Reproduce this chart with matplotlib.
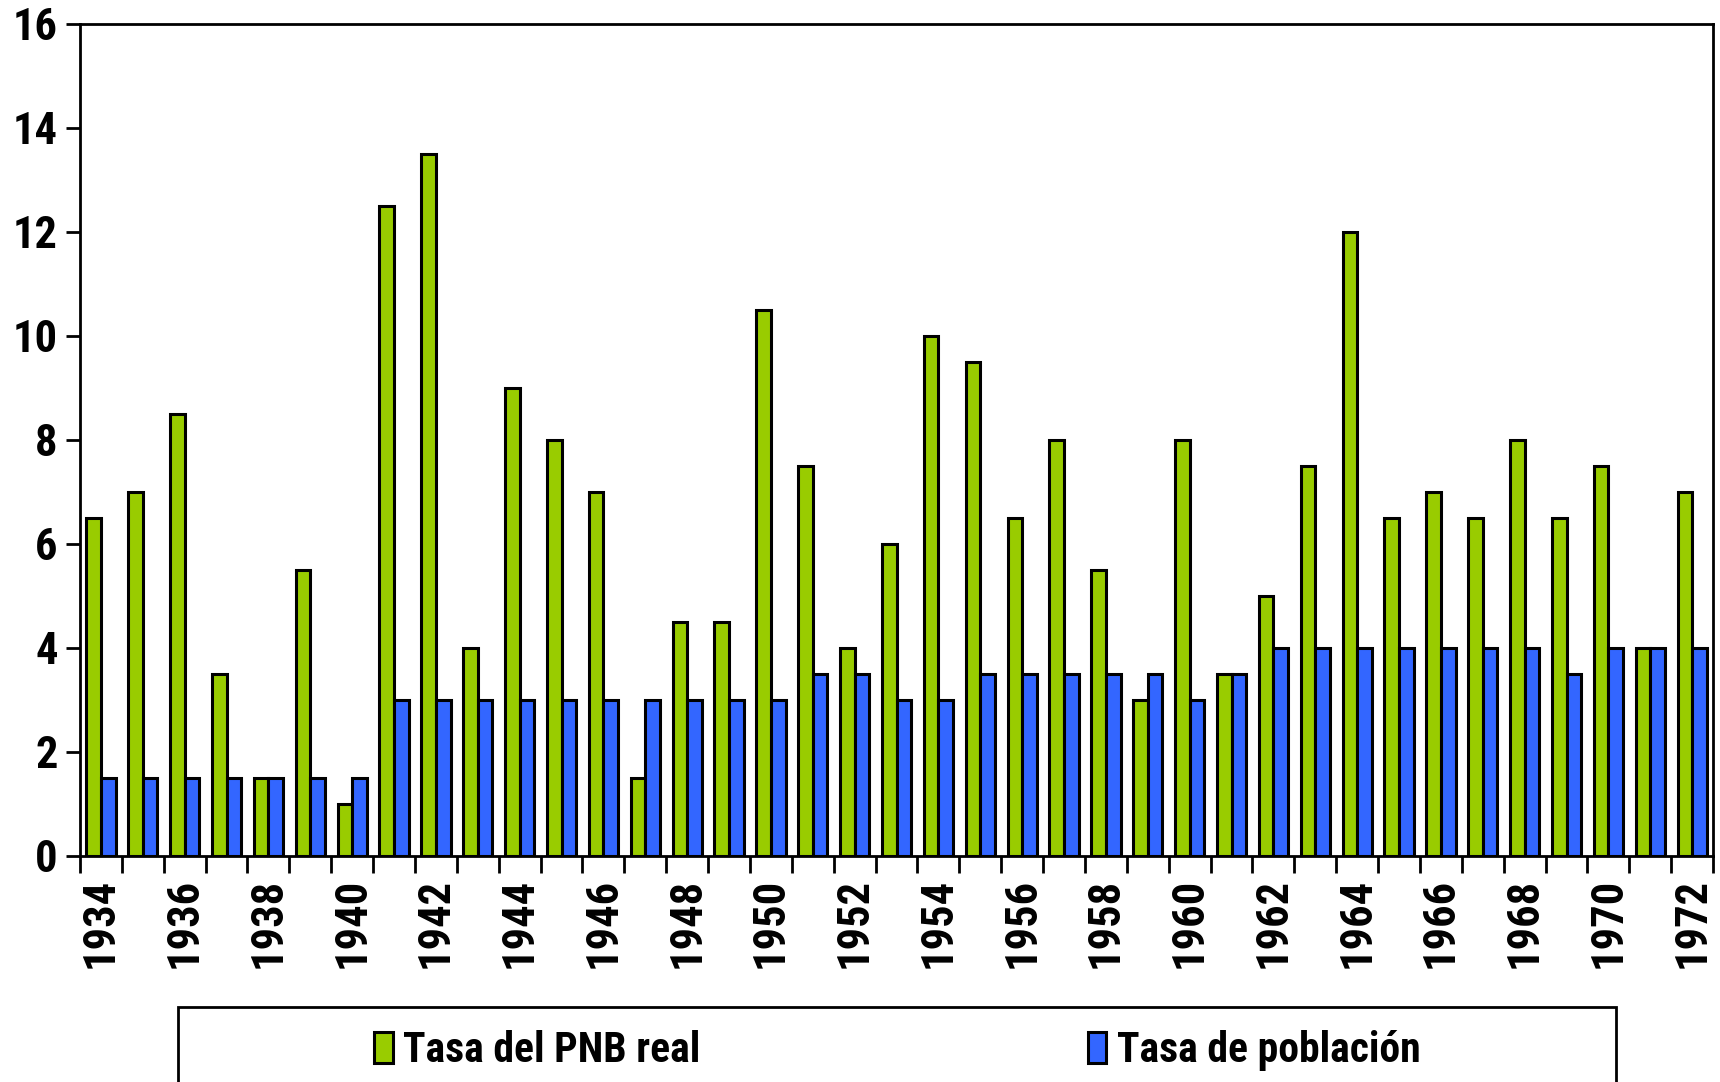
import numpy as np
import matplotlib.pyplot as plt
from matplotlib.patches import Rectangle

plt.rcParams['font.family'] = ['Roboto Condensed', 'DejaVu Sans']
plt.rcParams['font.weight'] = 'bold'

# datos
anios = list(range(1934, 1973))
pnb_real = [6.5, 7, 8.5, 3.5, 1.5, 5.5, 1, 12.5, 13.5, 4,
            9, 8, 7, 1.5, 4.5, 4.5, 10.5, 7.5, 4, 6,
            10, 9.5, 6.5, 8, 5.5, 3, 8, 3.5, 5, 7.5,
            12, 6.5, 7, 6.5, 8, 6.5, 7.5, 4, 7]
poblacion = [1.5, 1.5, 1.5, 1.5, 1.5, 1.5, 1.5, 3, 3, 3,
             3, 3, 3, 3, 3, 3, 3, 3.5, 3.5, 3,
             3, 3.5, 3.5, 3.5, 3.5, 3.5, 3, 3.5, 4, 4,
             4, 4, 4, 4, 4, 3.5, 4, 4, 4]

verde = '#99CC00'
azul = '#3366FF'

fig = plt.figure(figsize=(17.2, 10.82), dpi=100)
ax = fig.add_axes([0.0465, 0.209, 0.9495, 0.769])

x = np.arange(len(anios))
w = 0.35
ax.bar(x - w/2, pnb_real, w, color=verde, edgecolor='black', linewidth=2.2,
       label='Tasa del PNB real')
ax.bar(x + w/2, poblacion, w, color=azul, edgecolor='black', linewidth=2.2,
       label='Tasa de población')

ax.set_xlim(-0.5, len(anios) - 0.5)
ax.set_ylim(0, 16)
ax.set_yticks(np.arange(0, 17, 2))

# etiquetas cada dos años, marcas entre categorias
ax.set_xticks(x[::2])
ax.set_xticklabels([str(a) for a in anios[::2]], rotation=90)
ax.set_xticks(np.arange(len(anios) + 1) - 0.5, minor=True)
ax.tick_params(axis='x', which='major', length=0, pad=16, labelsize=32)
ax.tick_params(axis='x', which='minor', length=12, width=2)
ax.tick_params(axis='y', length=10, width=2, labelsize=32, pad=6)

for s in ax.spines.values():
    s.set_linewidth(2)

# caja de la leyenda (se sale por abajo)
fig.add_artist(Rectangle((0.1035, -0.05), 0.836, 0.119, transform=fig.transFigure,
                         fill=False, edgecolor='black', linewidth=2))
fig.legend(loc='center left', bbox_to_anchor=(0.1955, 0.029), ncol=2, frameon=False,
           fontsize=30, handlelength=0.45, handleheight=0.75, handletextpad=0.25,
           columnspacing=9.3)

fig.savefig('out.png')
